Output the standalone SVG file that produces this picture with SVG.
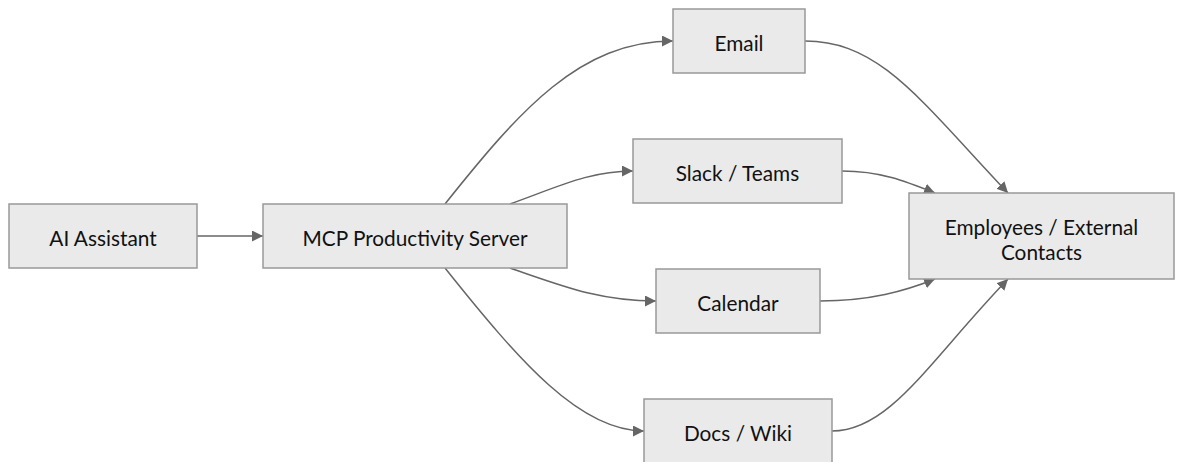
<svg xmlns="http://www.w3.org/2000/svg" width="1183" height="462" viewBox="0 0 1183 462">
<style>
.node rect{fill:#eaeaea;stroke:#999;stroke-width:1.5}
.node text{font-family:Lato,"Open Sans",sans-serif;font-size:20.8px;fill:#111;text-anchor:middle;dominant-baseline:central}
.edges path{fill:none;stroke:#666;stroke-width:1.5}
</style>
<defs>
<marker id="arr" viewBox="0 0 10 10" refX="10" refY="5" markerWidth="11" markerHeight="11" markerUnits="userSpaceOnUse" orient="auto">
<path d="M0,0 L10,5 L0,10 z" fill="#666"/>
</marker>
</defs>
<rect width="1183" height="462" fill="#fff"/>
<g class="edges">
<path d="M197,236 L263,236" marker-end="url(#arr)"/>
<path d="M445,204 C520,110 580,41 673,41" marker-end="url(#arr)"/>
<path d="M510,204 C560,186 590,171 633,171" marker-end="url(#arr)"/>
<path d="M510,268 C565,287 600,301 656,301" marker-end="url(#arr)"/>
<path d="M445,268 C520,362 580,431 644,431" marker-end="url(#arr)"/>
<path d="M805,41 C880,41 920,100 1008,193" marker-end="url(#arr)"/>
<path d="M842,171 C880,171 905,181 935,193" marker-end="url(#arr)"/>
<path d="M820,301 C870,301 905,291 935,279" marker-end="url(#arr)"/>
<path d="M832,431 C890,431 930,360 1008,279" marker-end="url(#arr)"/>
</g>
<g id="ai" class="node"><rect x="9" y="204" width="188" height="64"/><text x="103" y="237">AI Assistant</text></g>
<g id="mcp" class="node"><rect x="263" y="204" width="304" height="64"/><text x="415" y="237">MCP Productivity Server</text></g>
<g id="email" class="node"><rect x="673" y="9" width="132" height="64"/><text x="739" y="42">Email</text></g>
<g id="slack" class="node"><rect x="633" y="139" width="209" height="64"/><text x="737.5" y="172">Slack / Teams</text></g>
<g id="calendar" class="node"><rect x="656" y="269" width="164" height="64"/><text x="738" y="302">Calendar</text></g>
<g id="docs" class="node"><rect x="644" y="399" width="188" height="64"/><text x="738" y="432">Docs / Wiki</text></g>
<g id="emp" class="node"><rect x="909" y="193" width="265" height="86"/><text x="1041.5" y="226">Employees / External</text><text x="1041.5" y="251">Contacts</text></g>
</svg>
